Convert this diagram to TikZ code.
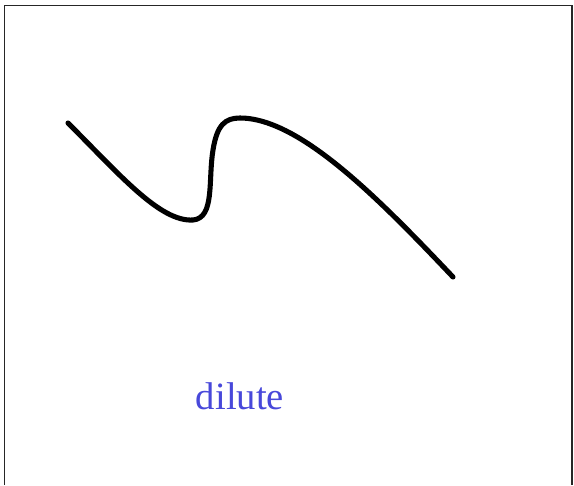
\documentclass[tikz,border=0pt]{standalone}
\usepackage{fontspec}
\setmainfont{Liberation Serif}
\definecolor{dilblue}{RGB}{72,72,218}
\tikzset{
	curve/.style={line width=3.8pt, line cap=round, line join=round},
	frame/.style={line width=1pt, draw=black!85},
	label/.style={text=dilblue, font=\fontsize{29}{32}\selectfont}
}
\begin{document}
\begin{tikzpicture}
			[x=0.75pt, y=-0.75pt]
			\useasboundingbox (0,0) rectangle (574,485);
			\draw[frame] (4.5,485) -- (4.5,5.5) -- (572,5.5) -- (572,485);
			\coordinate (s0) at (68,123);
			\coordinate (s1) at (193,220);
			\coordinate (s2) at (213,150);
			\coordinate (s3) at (240,118);
			\coordinate (s4) at (453,277);
			\draw[curve] (s0) .. controls (120,175) and (160,222) .. (s1)
				.. controls (215,218) and (208,180) .. (s2)
				.. controls (217,125) and (225,118) .. (s3)
				.. controls (300,118) and (380,200) .. (s4);
			\node[label] (d) at (240,396) {dilute};
		\end{tikzpicture}
\end{document}
